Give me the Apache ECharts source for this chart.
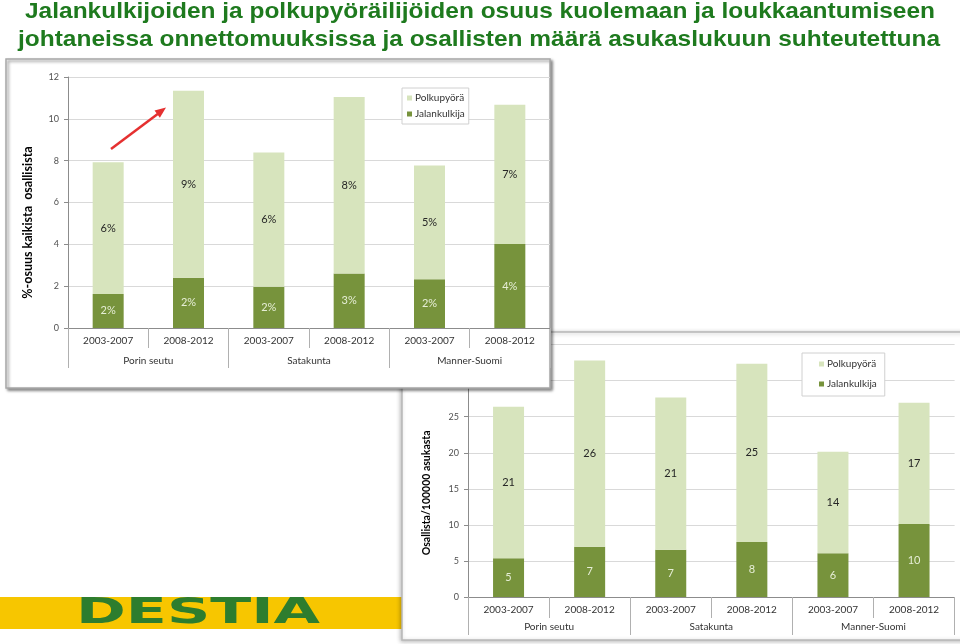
<!DOCTYPE html>
<html><head><meta charset="utf-8">
<script src="https://cdn.jsdelivr.net/npm/echarts@6/dist/echarts.min.js"></script>
<style>html,body{margin:0;padding:0;background:#fff}#c{width:960px;height:644px}</style>
</head><body><div id="c"></div>
<script>
// ---- data ----
const categories = ['2003-2007', '2008-2012', '2003-2007', '2008-2012', '2003-2007', '2008-2012'];
const groups = ['Porin seutu', 'Satakunta', 'Manner-Suomi'];
const seriesNames = ['Polkupyörä', 'Jalankulkija'];
// chart 1: %-share of all involved
const shareJalankulkija = [1.63, 2.40, 1.97, 2.61, 2.33, 4.01];
const sharePolkupyora = [6.29, 8.94, 6.42, 8.43, 5.44, 6.66];
const shareAxis = { min: 0, max: 12, interval: 2 };
// chart 2: involved per 100000 inhabitants
const rateJalankulkija = [5.37, 6.98, 6.55, 7.63, 6.05, 10.12];
const ratePolkupyora = [21.0, 25.8, 21.1, 24.7, 14.1, 16.8];
const rateAxis = { min: 0, max: 35, interval: 5 };
const titleLines = ['Jalankulkijoiden ja polkupyöräilijöiden osuus kuolemaan ja loukkaantumiseen',
                    'johtaneissa onnettomuuksissa ja osallisten määrä asukaslukuun suhteutettuna'];
const shareTitle = '%-osuus kaikista  osallisista';
const rateTitle = 'Osallista/100000 asukasta';
const logoText = 'DESTIA';

// ---- styles ----
const LIGHT = '#d7e4bd', DARK = '#77933c';
const FONT = 'Lato, "Open Sans", sans-serif';
function measure(text, font) {
  const c = document.createElement('canvas').getContext('2d');
  c.font = font; return c.measureText(text).width;
}
const titleFont = 'bold 22px "Liberation Sans", Arial, sans-serif';
const logoFont = 'bold 36px "DejaVu Sans", sans-serif';

function yAxisCfg(grid, ax, name, gap, size, shift, zl) {
  return {
    type: 'value', gridIndex: grid, min: ax.min, max: ax.max, interval: ax.interval,
    zlevel: zl, z: 2,
    axisLine: { show: true, lineStyle: { color: '#8c8c8c', width: 1 } },
    axisTick: { show: true, length: 4, lineStyle: { color: '#8c8c8c' } },
    splitLine: { lineStyle: { color: '#d9d9d9', width: 1 } },
    axisLabel: { fontSize: 9, color: '#505050', margin: 9, fontFamily: FONT },
    name: name, nameLocation: 'middle', nameRotate: 90, nameGap: gap,
    nameTextStyle: { fontSize: size, fontWeight: 'bold', color: '#000', fontFamily: FONT, padding: [0, shift, 0, 0] }
  };
}
function xYears(grid, tickLen, margin, zl) {
  return {
    type: 'category', gridIndex: grid, data: categories, position: 'bottom', zlevel: zl, z: 2,
    axisLine: { show: true, lineStyle: { color: '#8c8c8c' } },
    axisTick: { show: true, interval: 0, length: tickLen, lineStyle: { color: '#b0b0b0' } },
    axisLabel: { interval: 0, margin: margin, fontSize: 10, color: '#333', fontFamily: FONT }
  };
}
function xGroups(grid, tickLen, margin, zl) {
  return {
    type: 'category', gridIndex: grid, data: groups, position: 'bottom', zlevel: zl, z: 2,
    axisLine: { show: false },
    axisTick: { show: true, interval: 0, length: tickLen, lineStyle: { color: '#b0b0b0' } },
    axisLabel: { interval: 0, margin: margin, fontSize: 10, color: '#333', fontFamily: FONT }
  };
}
function barSeries(name, data, color, labelColor, xi, yi, stack, zl, fmt) {
  return {
    type: 'bar', name: name, data: data, stack: stack, xAxisIndex: xi, yAxisIndex: yi,
    barWidth: 31, zlevel: zl, z: 3,
    itemStyle: { color: color },
    label: { show: true, position: 'inside', color: labelColor, fontSize: 11, fontFamily: FONT, formatter: fmt }
  };
}
function legendCfg(left, top, pad, gap, zl) {
  return {
    data: seriesNames, orient: 'vertical', left: left, top: top, zlevel: zl, z: 4,
    itemWidth: 5, itemHeight: 5, itemGap: gap, icon: 'rect', padding: pad,
    borderColor: '#d0d0d0', borderWidth: 1, backgroundColor: '#fff',
    textStyle: { fontSize: 10, color: '#333', fontFamily: FONT, padding: [0, 0, 0, -2] }
  };
}
const pct = p => Math.round(p.value) + '%';
const num = p => String(Math.round(p.value));

const s1 = measure(titleLines[0], titleFont), s2 = measure(titleLines[1], titleFont);
const sl = measure(logoText, logoFont);

const option = {
  animation: false,
  backgroundColor: '#fff',
  grid: [
    { left: 68, top: 77, width: 482, height: 251 },
    { left: 468, top: 344.6, width: 486.6, height: 252.4 }
  ],
  xAxis: [xYears(0, 20, 8, 1), xGroups(0, 40, 28, 1), xYears(1, 21, 8, 0), xGroups(1, 38, 25, 0)],
  yAxis: [yAxisCfg(0, shareAxis, shareTitle, 34, 12.5, 40, 1), yAxisCfg(1, rateAxis, rateTitle, 36, 10.5, 44, 0)],
  legend: [legendCfg(402, 88, [5, 4, 5, 5], 6, 1), legendCfg(802, 353, [6, 8, 7, 17], 10, 0)],
  series: [
    barSeries('Jalankulkija', shareJalankulkija, DARK, '#e6eed6', 0, 0, 'a', 1, pct),
    barSeries('Polkupyörä', sharePolkupyora, LIGHT, '#262626', 0, 0, 'a', 1, pct),
    barSeries('Jalankulkija', rateJalankulkija, DARK, '#e6eed6', 2, 1, 'b', 0, num),
    barSeries('Polkupyörä', ratePolkupyora, LIGHT, '#262626', 2, 1, 'b', 0, num)
  ],
  graphic: [
    { type: 'text', x: 480, y: 12, scaleX: 910 / s1, zlevel: 0, z: 5,
      style: { text: titleLines[0], font: titleFont, fill: '#1e7a1e', textAlign: 'center', textVerticalAlign: 'middle' } },
    { type: 'text', x: 479, y: 39.5, scaleX: 922 / s2, zlevel: 0, z: 5,
      style: { text: titleLines[1], font: titleFont, fill: '#1e7a1e', textAlign: 'center', textVerticalAlign: 'middle' } },
    { type: 'rect', zlevel: 0, z: 0, shape: { x: 0, y: 597, width: 404, height: 32 }, style: { fill: '#f7c600' } },
    { type: 'text', x: 198, y: 614, scaleX: 244 / sl, zlevel: 0, z: 1,
      style: { text: logoText, font: logoFont, fill: '#2d7d2e', textAlign: 'center', textVerticalAlign: 'middle' } },
    { type: 'rect', zlevel: 0, z: 1, shape: { x: 402, y: 332, width: 600, height: 308 },
      style: { fill: '#fff', stroke: '#b8b8b8', lineWidth: 1.5, shadowBlur: 4, shadowColor: 'rgba(0,0,0,0.25)', shadowOffsetX: -1, shadowOffsetY: 1 } },
    { type: 'rect', zlevel: 1, z: 0, shape: { x: 6, y: 59, width: 544, height: 329 },
      style: { fill: '#fff', stroke: '#a8a8a8', lineWidth: 1.5, shadowBlur: 3, shadowColor: 'rgba(0,0,0,0.45)', shadowOffsetX: 2, shadowOffsetY: 2 } },
    { type: 'line', zlevel: 1, z: 6, shape: { x1: 111, y1: 149, x2: 159, y2: 113 },
      style: { stroke: '#e53030', lineWidth: 2.5 } },
    { type: 'polygon', zlevel: 1, z: 6, shape: { points: [[166, 107.5], [159.9, 117.7], [154.5, 110.5]] },
      style: { fill: '#e53030' } }
  ]
};
const chart = echarts.init(document.getElementById('c'), null, { renderer: 'canvas' });
chart.setOption(option);
</script></body></html>
